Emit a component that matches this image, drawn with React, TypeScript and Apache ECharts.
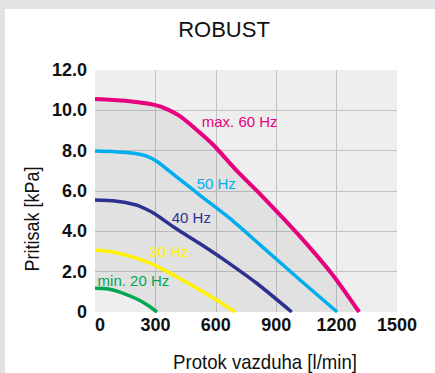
import React, { useEffect, useRef } from "react";
import * as echarts from "echarts";

// Flow [l/min] and pressure [kPa] readings per curve
const flow60 = [0, 150, 300, 360, 420, 497, 588, 700, 820, 1000, 1176, 1312];
const press60 = [10.56, 10.47, 10.26, 10.05, 9.72, 9.1, 8.28, 7.05, 5.85, 3.95, 1.9, 0];
const flow50 = [0, 100, 200, 260, 310, 370, 450, 520, 670, 820, 1000, 1203];
const press50 = [7.98, 7.95, 7.86, 7.72, 7.45, 6.98, 6.35, 5.8, 4.64, 3.33, 1.75, 0];
const flow40 = [0, 100, 200, 250, 300, 400, 520, 640, 800, 977];
const press40 = [5.55, 5.5, 5.32, 5.12, 4.85, 4.15, 3.4, 2.6, 1.45, 0];
const flow30 = [0, 100, 200, 300, 450, 620, 695];
const press30 = [3.07, 2.95, 2.68, 2.3, 1.5, 0.5, 0];
const flow20 = [0, 60, 120, 200, 260, 308];
const press20 = [1.18, 1.15, 1.0, 0.68, 0.35, 0];

const curveNames = ["max. 60 Hz", "50 Hz", "40 Hz", "30 Hz", "min. 20 Hz"];
// label anchor (left edge, vertical middle) in data units
const labelFlow = [530, 505, 381, 270, 13];
const labelPress = [9.47, 6.38, 4.69, 2.99, 1.54];

const xTicks = [0, 300, 600, 900, 1200, 1500];
const yTicks = ["0", "2.0", "4.0", "6.0", "8.0", "10.0", "12.0"];

const title = "ROBUST";
const yName = "Pritisak [kPa]";
const xName = "Protok vazduha [l/min]";

const colors = ["#e6007e", "#00aeef", "#2e3192", "#fff200", "#00a651"];
const SANS = '"Liberation Sans", Arial, Helvetica, sans-serif';

const zip = (a: number[], b: number[]) => a.map((v, i) => [v, b[i]]);

export default function App() {
  const ref = useRef<HTMLDivElement>(null);
  useEffect(() => {
    if (!ref.current) return;
    const chart = echarts.init(ref.current, null, { renderer: "svg" });
    const flows = [flow60, flow50, flow40, flow30, flow20];
    const presses = [press60, press50, press40, press30, press20];
    const series: any[] = flows.map((f, i) => ({
      type: "line",
      name: curveNames[i],
      data: zip(f, presses[i]),
      smooth: 0.25,
      symbol: "none",
      lineStyle: { color: colors[i], width: i === 0 ? 4 : 3.5 },
      areaStyle:
        i === 0
          ? { color: "rgba(0,0,0,0.075)", origin: "start" }
          : i === 4
          ? { color: "#eeeeee", opacity: 1, origin: "start" }
          : undefined,
      markPoint: {
        symbol: "circle",
        symbolSize: 0,
        data: [
          {
            coord: [labelFlow[i], labelPress[i]],
            label: {
              show: true,
              formatter: curveNames[i],
              position: [0, 0],
              align: "left",
              verticalAlign: "middle",
              color: colors[i],
              fontFamily: SANS,
              fontSize: 15,
            },
          },
        ],
      },
    }));
    chart.setOption({
      animation: false,
      backgroundColor: "transparent",
      grid: {
        left: 95,
        right: 38,
        top: 70,
        bottom: 61,
        show: true,
        backgroundColor: "#eeeeee",
        borderWidth: 0,
      },
      xAxis: {
        type: "value",
        min: 0,
        max: 1500,
        interval: 300,
        axisLine: { show: false },
        axisTick: { show: false },
        splitLine: { show: true, showMinLine: false, showMaxLine: false, lineStyle: { color: "#c2c2c2", width: 1 } },
        axisLabel: {
          margin: 4,
          fontFamily: SANS,
          fontSize: 18,
          fontWeight: "bold",
          color: "#111",
          alignMinLabel: "left",
          formatter: (v: number) => String(xTicks[Math.round(v / 300)]),
        },
      },
      yAxis: {
        type: "value",
        min: 0,
        max: 12,
        interval: 2,
        axisLine: { show: false },
        axisTick: { show: false },
        splitLine: { show: true, showMinLine: false, showMaxLine: false, lineStyle: { color: "#c2c2c2", width: 1 } },
        axisLabel: {
          margin: 8,
          fontFamily: SANS,
          fontSize: 18,
          fontWeight: "bold",
          color: "#111",
          formatter: (v: number) => yTicks[Math.round(v / 2)],
        },
      },
      graphic: [
        {
          type: "text",
          x: 224,
          y: 29,
          style: { text: title, fontFamily: SANS, fontSize: 22, fill: "#111", textAlign: "center", textVerticalAlign: "middle" },
        },
        {
          type: "text",
          x: 32,
          y: 219,
          rotation: Math.PI / 2,
          scaleX: 0.9,
          style: { text: yName, fontFamily: SANS, fontSize: 20, fill: "#111", textAlign: "center", textVerticalAlign: "middle" },
        },
        {
          type: "text",
          x: 265,
          y: 362,
          scaleX: 0.93,
          style: { text: xName, fontFamily: SANS, fontSize: 20, fill: "#111", textAlign: "center", textVerticalAlign: "middle" },
        },
      ],
      series,
    });
    return () => chart.dispose();
  }, []);
  return (
    <div style={{ position: "fixed", left: 0, top: 0, width: 435, height: 373, background: "#e1e2e4", overflow: "hidden" }}>
      <div style={{ position: "absolute", left: 5, top: 9, width: 430, height: 364, background: "#ffffff" }} />
      <div ref={ref} style={{ position: "absolute", left: 0, top: 0, width: 435, height: 373 }} />
    </div>
  );
}
